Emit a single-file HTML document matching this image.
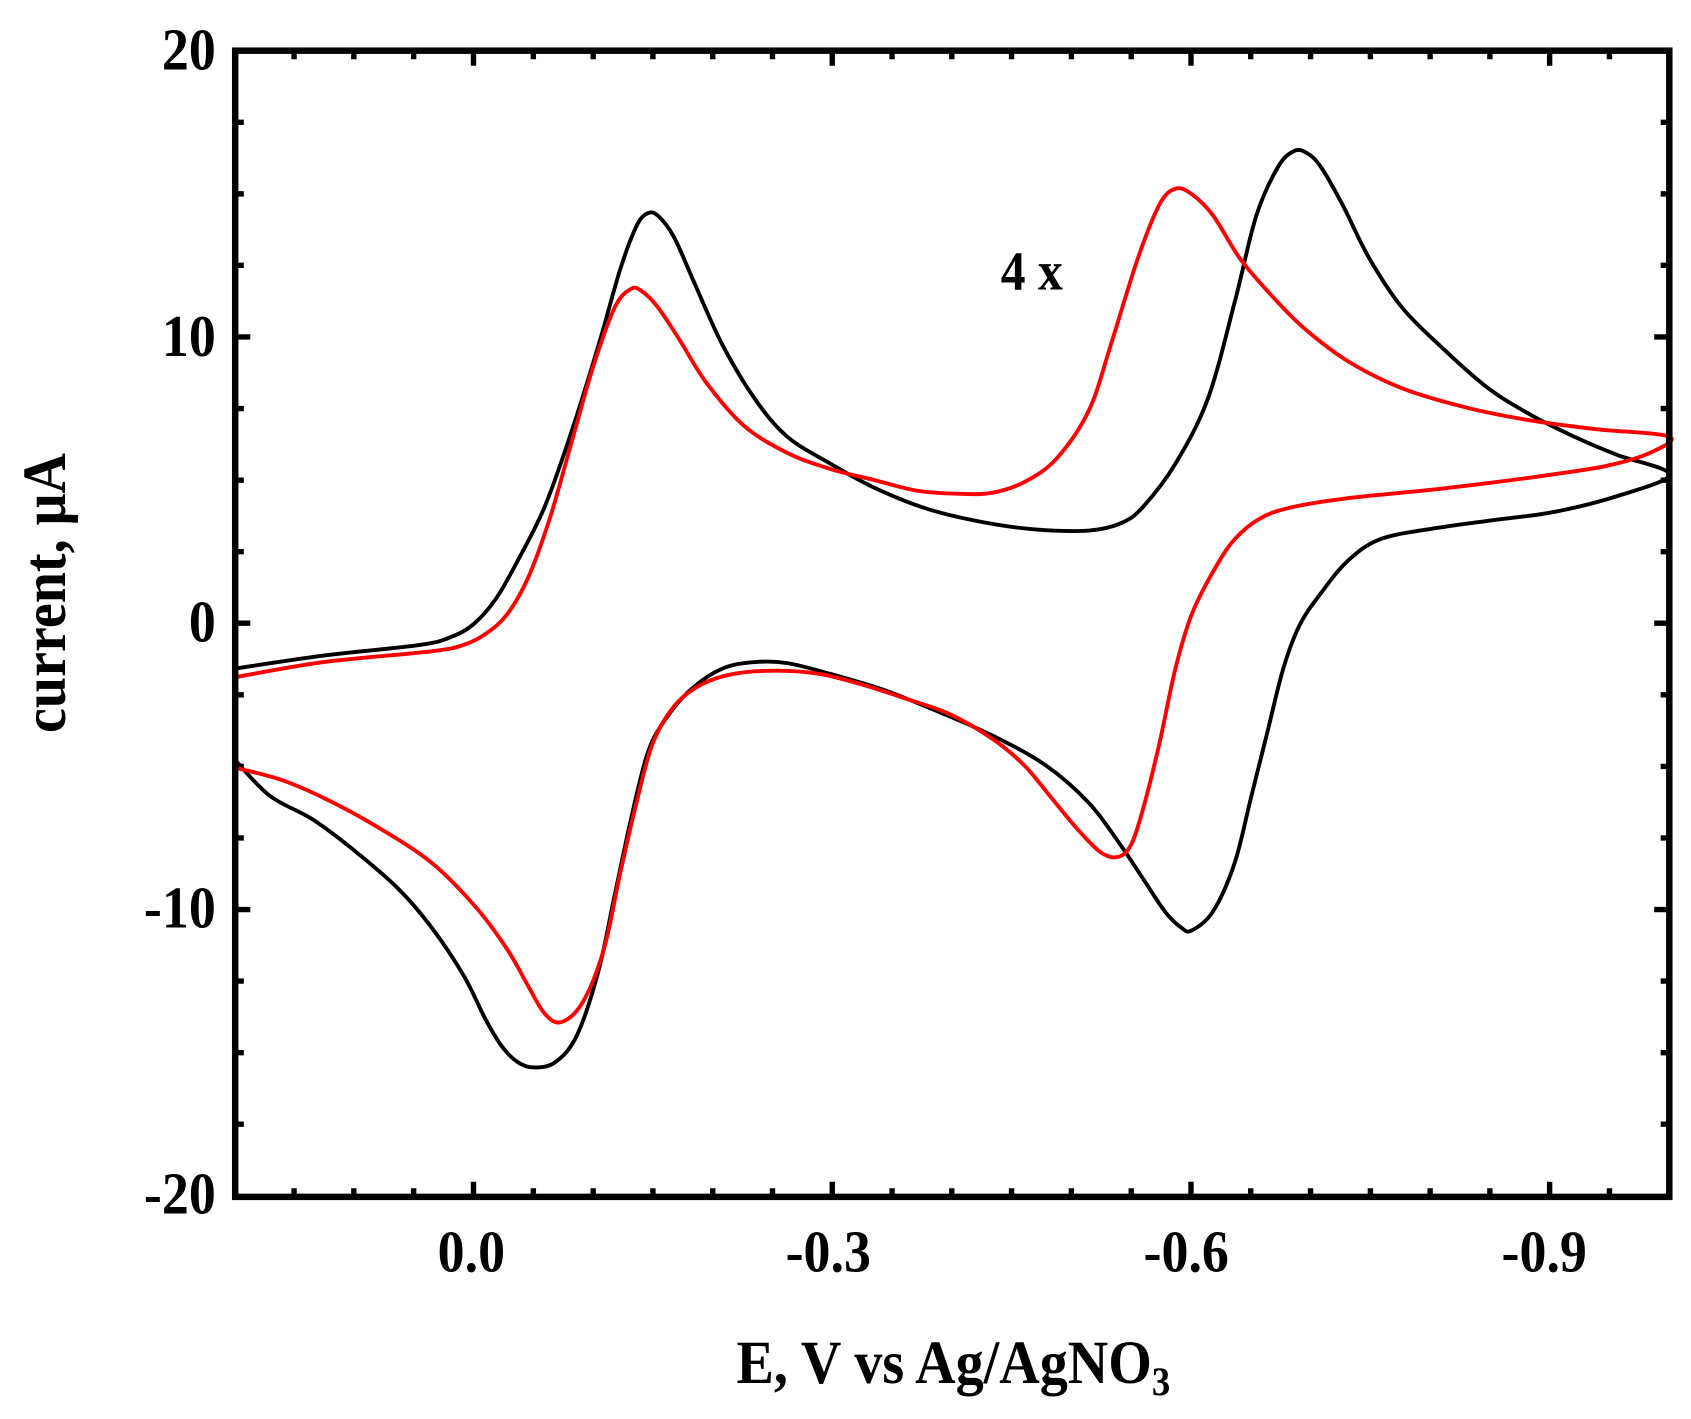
<!DOCTYPE html>
<html><head><meta charset="utf-8"><style>
html,body{margin:0;padding:0;background:#fff;}
svg{display:block;}
text{font-family:"Liberation Serif",serif;font-weight:bold;fill:#000;}
</style></head><body>
<svg width="1691" height="1419" viewBox="0 0 1568 1316" xmlns="http://www.w3.org/2000/svg">
<rect x="0" y="0" width="1568" height="1316" fill="#fff"/>
<g id="ticks" stroke="#000" stroke-width="5">
<path d="
M218 47h14 M218 113.4h8 M218 179.8h8 M218 246.1h8 M218 312.5h14 M218 378.9h8 M218 445.3h8 M218 511.6h8 M218 578h14 M218 644.4h8 M218 710.8h8 M218 777.1h8 M218 843.5h14 M218 909.9h8 M218 976.3h8 M218 1042.6h8
M1548 47h-14 M1548 113.4h-8 M1548 179.8h-8 M1548 246.1h-8 M1548 312.5h-14 M1548 378.9h-8 M1548 445.3h-8 M1548 511.6h-8 M1548 578h-14 M1548 644.4h-8 M1548 710.8h-8 M1548 777.1h-8 M1548 843.5h-14 M1548 909.9h-8 M1548 976.3h-8 M1548 1042.6h-8
"/>
<path d="
M272.6 1110v-8 M328 1110v-8 M383.5 1110v-8 M439 1110v-14 M494.5 1110v-8 M550 1110v-8 M605.4 1110v-8 M660.9 1110v-8 M716.3 1110v-8 M771.7 1110v-14 M827.2 1110v-8 M882.6 1110v-8 M938 1110v-8 M993.5 1110v-8 M1049 1110v-8 M1104.4 1110v-14 M1159.8 1110v-8 M1215.3 1110v-8 M1270.8 1110v-8 M1326.2 1110v-8 M1381.6 1110v-8 M1437 1110v-14 M1492.5 1110v-8
M272.6 47v8 M328 47v8 M383.5 47v8 M439 47v14 M494.5 47v8 M550 47v8 M605.4 47v8 M660.9 47v8 M716.3 47v8 M771.7 47v14 M827.2 47v8 M882.6 47v8 M938 47v8 M993.5 47v8 M1049 47v8 M1104.4 47v14 M1159.8 47v8 M1215.3 47v8 M1270.8 47v8 M1326.2 47v8 M1381.6 47v8 M1437 47v14 M1492.5 47v8
"/>
</g>
<g fill="none" stroke-width="3.6" stroke-linejoin="round" stroke-linecap="round">
<path id="cb" stroke="#000" data-p="218,620 300,608 390,598 420,590 440,578 460,555 480,520 505,470 530,400 555,320 575,250 590,210 600,198 610,200 625,220 645,265 670,320 700,370 730,405 770,430 810,452 860,472 910,484 960,491 1010,492 1040,485 1060,470 1090,430 1120,370 1145,280 1165,200 1185,155 1200,140 1212,142 1225,155 1245,190 1270,240 1300,285 1340,325 1380,360 1420,385 1460,405 1500,422 1548,440 1500,460 1440,475 1380,483 1330,490 1280,500 1250,520 1225,550 1205,580 1190,620 1175,680 1160,740 1145,800 1125,845 1105,863 1095,860 1080,845 1060,815 1040,785 1010,745 970,710 920,682 870,660 820,640 770,625 730,615 700,614 670,620 640,640 615,670 600,700 585,760 570,830 555,900 535,960 515,985 495,990 480,985 465,970 450,945 430,905 400,860 370,825 330,790 290,760 250,738 218,705"/>
<path id="cr" stroke="#f00" data-p="218,628 300,614 400,604 430,598 450,588 470,570 490,535 510,480 530,410 550,340 570,285 585,268 595,270 610,285 630,315 655,355 690,395 730,420 770,435 810,445 850,455 890,458 920,457 950,447 980,425 1010,380 1030,320 1055,240 1075,190 1090,175 1105,180 1125,200 1150,240 1180,275 1210,305 1250,335 1300,360 1360,378 1420,390 1480,398 1548,405 1530,420 1490,432 1440,440 1380,448 1320,455 1250,462 1200,470 1170,480 1145,500 1125,530 1105,570 1090,620 1075,690 1060,750 1048,785 1035,795 1020,790 1000,770 975,740 950,710 920,685 880,662 840,648 800,635 760,625 720,622 680,625 650,635 625,655 605,690 590,745 575,810 560,880 540,930 520,948 505,940 490,915 470,880 440,840 400,800 350,767 300,740 260,723 218,712"/>
</g>
<rect x="218" y="47" width="1330" height="1063" fill="none" stroke="#000" stroke-width="6"/>
<g font-size="50" text-anchor="end">
<text x="200" y="64" transform="translate(0,-6) scale(1,1.1)">20</text>
<text x="200" y="300" transform="scale(1,1.1)">10</text>
<text x="200" y="541" transform="scale(1,1.1)">0</text>
<text x="200" y="782" transform="scale(1,1.1)">-10</text>
<text x="200" y="1023" transform="scale(1,1.1)">-20</text>
</g>
<g font-size="50" text-anchor="middle">
<text x="437" y="1072" transform="scale(1,1.1)">0.0</text>
<text x="768" y="1072" transform="scale(1,1.1)">-0.3</text>
<text x="1100" y="1072" transform="scale(1,1.1)">-0.6</text>
<text x="1432" y="1072" transform="scale(1,1.1)">-0.9</text>
</g>
<text x="884" y="1166" font-size="52" text-anchor="middle" transform="scale(1,1.1)">E, V vs Ag/AgNO<tspan font-size="34" dy="10">3</tspan></text>
<text transform="translate(60,550) rotate(-90) scale(1,1.1)" font-size="52" text-anchor="middle">current, μA</text>
<text x="928" y="244" font-size="46" transform="scale(1,1.1)">4 x</text>
</svg>
<script>
['cb','cr'].forEach(function(id){
var el=document.getElementById(id);
var p=el.getAttribute('data-p').split(' ').map(function(s){var a=s.split(',');return [+a[0],+a[1]];});
var d='M'+p[0][0]+' '+p[0][1];
for(var i=0;i<p.length-1;i++){
var p0=p[i-1]||p[i],p1=p[i],p2=p[i+1],p3=p[i+2]||p2;
var c1x=p1[0]+(p2[0]-p0[0])/6,c1y=p1[1]+(p2[1]-p0[1])/6;
var c2x=p2[0]-(p3[0]-p1[0])/6,c2y=p2[1]-(p3[1]-p1[1])/6;
d+=' C'+c1x.toFixed(1)+' '+c1y.toFixed(1)+' '+c2x.toFixed(1)+' '+c2y.toFixed(1)+' '+p2[0]+' '+p2[1];
}
el.setAttribute('d',d);
});
</script>
</body></html>
